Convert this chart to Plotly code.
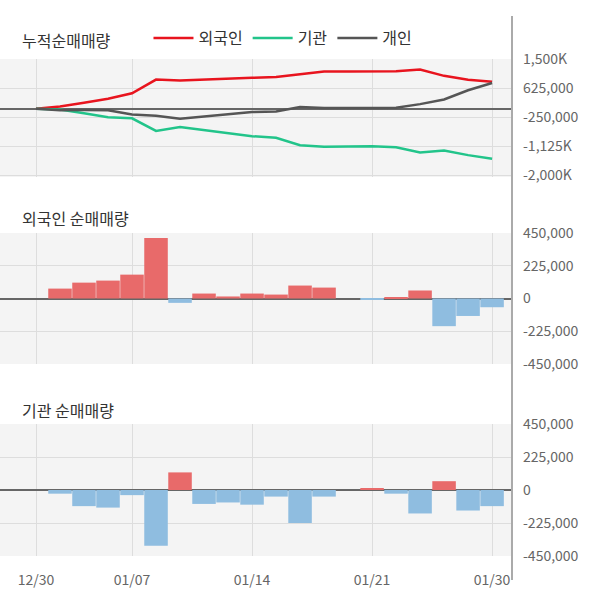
import plotly.graph_objects as go

dates = ["12/30","01/02","01/03","01/06","01/07","01/08","01/09","01/10","01/13","01/14",
         "01/15","01/16","01/17","01/20","01/21","01/22","01/23","01/28","01/29","01/30"]
foreign = [0,68000,109000,123000,164000,415000,-30000,34000,14000,34000,27000,89000,75000,0,-5000,10000,55000,-190000,-120000,-60000]
inst = [0,-25000,-110000,-120000,-35000,-380000,120000,-95000,-85000,-100000,-45000,-225000,-45000,0,10000,-25000,-160000,60000,-140000,-110000]
indiv = [0,-43000,1000,-3000,-129000,-35000,-90000,61000,71000,66000,18000,136000,-30000,0,-5000,15000,105000,140000,280000,220000]
tickdates = ["12/30","01/07","01/14","01/21","01/30"]

def cum(a):
    s=0; out=[]
    for v in a:
        s+=v; out.append(s)
    return out

font = "Noto Sans CJK KR"
fig = go.Figure()
for name, data, col in [("외국인", foreign, "#e8141e"), ("기관", inst, "#22c48a"), ("개인", indiv, "#555555")]:
    fig.add_trace(go.Scatter(x=dates, y=cum(data), name=name, mode="lines",
                             line=dict(color=col, width=2.5), xaxis="x", yaxis="y"))
for data, ax in [(foreign, "y2"), (inst, "y3")]:
    fig.add_trace(go.Bar(x=dates[1:], y=data[1:], showlegend=False, xaxis="x", yaxis=ax,
                         marker=dict(color=["#e86a6a" if v > 0 else "#8fbde0" for v in data[1:]],
                                     line=dict(width=0))))

H = 556.0
def dom(a, b): return [1 - b / H, 1 - a / H]
yax = dict(side="right", showgrid=True, gridcolor="#dddddd", zeroline=True, zerolinecolor="#666666",
           zerolinewidth=2, tickfont=dict(size=14, color="#666666", family=font), ticks="", showline=False,
           ticklabelstandoff=10)
fig.update_layout(
    width=600, height=604, margin=dict(l=0, r=88, t=0, b=48, autoexpand=False),
    paper_bgcolor="white", plot_bgcolor="#f4f4f4", bargap=0.02,
    font=dict(family=font),
    xaxis=dict(type="category", range=[-1.5, 19.83], tickmode="array", tickvals=tickdates,
               showgrid=True, gridcolor="#dddddd", tickfont=dict(size=14, color="#666666"), ticks="",
               anchor="y3", ticklabelstandoff=14),
    yaxis=dict(domain=dom(59, 177), range=[-2060000, 1500000],
               tickvals=[1500000, 625000, -250000, -1125000, -2000000],
               ticktext=["1,500K", "625,000", "-250,000", "-1,125K", "-2,000K"], **yax),
    yaxis2=dict(domain=dom(233, 364), range=[-450000, 450000],
                tickvals=[450000, 225000, 0, -225000, -450000],
                ticktext=["450,000", "225,000", "0", "-225,000", "-450,000"], **yax),
    yaxis3=dict(domain=dom(424, 556), range=[-450000, 450000],
                tickvals=[450000, 225000, 0, -225000, -450000],
                ticktext=["450,000", "225,000", "0", "-225,000", "-450,000"], **yax),
    legend=dict(orientation="h", x=0.29, y=1 - 38 / H, yanchor="middle", xanchor="left",
                font=dict(size=16, color="#333333"), bgcolor="rgba(0,0,0,0)", itemwidth=40),
)
for txt, ypx in [("누적순매매량", 40), ("외국인 순매매량", 218), ("기관 순매매량", 410)]:
    fig.add_annotation(text=txt, xref="paper", yref="paper", x=0.04, y=1 - ypx / H, xanchor="left",
                       yanchor="middle", showarrow=False, font=dict(size=16, color="#333333", family=font))
fig.add_shape(type="line", xref="paper", yref="paper", x0=1, x1=1, y0=-0.043, y1=1 - 16 / H,
              line=dict(color="#aaaaaa", width=2))
fig.write_html("out.html", config={"displayModeBar": False})
with open("out.html", encoding="utf-8") as f:
    html = f.read()
html = html.replace("<head>", "<head><style>html,body{margin:0;padding:0;overflow:hidden}</style>", 1)
with open("out.html", "w", encoding="utf-8") as f:
    f.write(html)
